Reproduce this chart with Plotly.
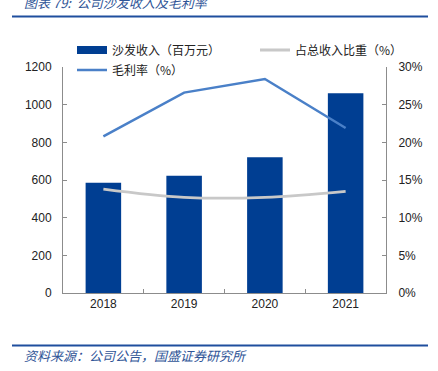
import plotly.graph_objects as go

years = ["2018", "2019", "2020", "2021"]
sofa_revenue = [586, 623, 721, 1060]          # 百万元
share_of_total = [0.138, 0.127, 0.127, 0.135]  # 占总收入比重
gross_margin = [0.208, 0.266, 0.284, 0.219]    # 毛利率

BAR = "#003E92"
LINE = "#4A80C8"
GRAY = "#C8C8C8"
TXT_BLUE = "#2F5597"
AX = "#8C8C8C"

fig = go.Figure()
fig.add_trace(go.Bar(x=years, y=sofa_revenue, name="沙发收入（百万元）",
                     marker=dict(color=BAR, line=dict(width=0)), width=0.44,
                     showlegend=False))
# legend swatch for the bar series
fig.add_trace(go.Scatter(x=[None], y=[None], mode="lines", name="沙发收入（百万元）",
                         line=dict(color=BAR, width=8), legend="legend"))
fig.add_trace(go.Scatter(x=years, y=share_of_total, yaxis="y2", mode="lines",
                         name="占总收入比重（%）", line=dict(color=GRAY, width=2.8, shape="spline"),
                         legend="legend2"))
fig.add_trace(go.Scatter(x=years, y=gross_margin, yaxis="y2", mode="lines",
                         name="毛利率（%）", line=dict(color=LINE, width=2.5),
                         legend="legend3"))

font_cjk = "Noto Sans CJK SC"
num_font = dict(family="Liberation Sans, Arial", size=12, color="#222")
leg_font = dict(family=font_cjk, size=12, color="#222")

W, H = 438, 371
L, R, T, B = 63, 52, 67, 78
pw, ph = W - L - R, H - T - B

def px_x(p):
    return (p - L) / pw

def px_y(p):
    return (H - B - p) / ph

def leg(x, y):
    return dict(x=x / W, y=1 - y / H, xref="container", yref="container",
                xanchor="left", yanchor="middle",
                orientation="h", font=leg_font, bgcolor="rgba(0,0,0,0)",
                borderwidth=0, tracegroupgap=0)

fig.update_layout(
    width=W, height=H,
    margin=dict(l=L, r=R, t=T, b=B, autoexpand=False),
    plot_bgcolor="white", paper_bgcolor="white",
    xaxis=dict(type="category", showline=True, linecolor=AX, linewidth=1,
               ticks="inside", tickson="boundaries", ticklen=4, tickcolor=AX,
               tickfont=num_font, showgrid=False, fixedrange=True, automargin=False),
    yaxis=dict(range=[0, 1200], tickvals=[0, 200, 400, 600, 800, 1000, 1200],
               showline=True, linecolor=AX, linewidth=1, ticks="inside",
               ticklen=4, tickcolor=AX, tickfont=num_font, showgrid=False,
               zeroline=False, ticklabelstandoff=8, automargin=False),
    yaxis2=dict(range=[0, 0.30], tickvals=[0, 0.05, 0.10, 0.15, 0.20, 0.25, 0.30],
                tickformat=".0%", overlaying="y", side="right", showline=True,
                linecolor=AX, linewidth=1, ticks="inside", ticklen=4, tickcolor=AX,
                tickfont=num_font, showgrid=False, zeroline=False, ticklabelstandoff=9,
                automargin=False),
    legend=leg(72, 50),
    legend2=leg(255, 50),
    legend3=leg(72, 70),
    showlegend=True,
)

fig.add_annotation(text="图表 79:  公司沙发收入及毛利率", xref="paper", yref="paper",
                   x=px_x(22), y=px_y(2), xanchor="left", yanchor="middle", showarrow=False,
                   font=dict(family=font_cjk, size=13, color=TXT_BLUE, style="italic"))
fig.add_annotation(text="资料来源：公司公告，国盛证券研究所", xref="paper", yref="paper",
                   x=px_x(22), y=px_y(355), xanchor="left", yanchor="middle", showarrow=False,
                   font=dict(family=font_cjk, size=13, color=TXT_BLUE, style="italic"))
for yy in (16.5, 345.5):
    fig.add_shape(type="line", xref="paper", yref="paper",
                  x0=px_x(12), x1=px_x(428), y0=px_y(yy), y1=px_y(yy),
                  line=dict(color="#1F4E9E", width=2))

fig.write_html("out.html", config={"displayModeBar": False},
               post_script="document.body.style.margin='0';document.body.style.padding='0';"
                           "document.body.style.overflow='hidden';")
